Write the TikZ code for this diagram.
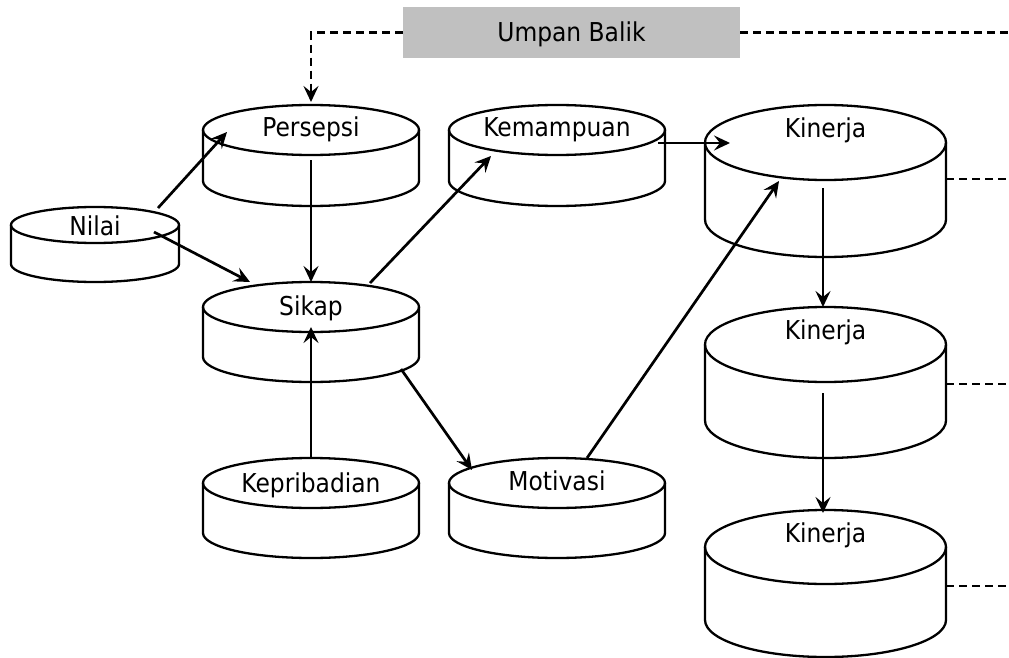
\documentclass[tikz,border=0pt]{standalone}
\usepackage{fontspec}
\setmainfont{DejaVu Sans Condensed}
\usetikzlibrary{arrows.meta,calc}
\definecolor{fbgray}{HTML}{C0C0C0}
\newcommand\cylnode[8]{%
  \node[cylbox, minimum width=#4, minimum height=#5] (#1) at (#2,{#3+#5/2}) {};
  \draw[cylline] ($(#1.north west)+(0,#6)$) -- ($(#1.south west)+(0,-#6)$)
     arc[start angle=180, end angle=0, x radius={#4/2}, y radius=#6]
     -- ($(#1.north east)+(0,#6)$);
  \draw[cylline] ($(#1.north)+(0,#6)$) ellipse[x radius={#4/2}, y radius=#6];
  \node[lbl] (#1-label) at (#2,#8) {#7};
}
\begin{document}
\begin{tikzpicture}[x=1pt,y=-1pt,
  cylbox/.style={draw=none, rectangle, inner sep=0pt, outer sep=0pt},
  cylline/.style={draw=black, line width=2.3pt},
  lbl/.style={inner sep=0pt, anchor=base, font=\fontsize{26}{30}\selectfont},
  tip/.style={-{Stealth[length=16pt,width=15pt,inset=6pt]}},
  arr/.style={draw=black, line width=2.7pt, tip},
  fb/.style={draw=black, line width=2.6pt, dash pattern=on 8pt off 5pt},
  fbr/.style={draw=black, line width=2pt, dash pattern=on 8pt off 5pt},
  fbbox/.style={fill=fbgray, draw=none, minimum width=337, minimum height=51,
     inner sep=0pt, text height=19pt, text depth=0pt, font=\fontsize{26}{30}\selectfont}]
\useasboundingbox (0,0) rectangle (1009,658);

% cylinders: name, cx, top, width, height, ry, text, baseline
\cylnode{nilai}{95}{207}{168}{75}{18}{Nilai}{235}
\cylnode{persepsi}{311}{105}{216}{101}{25}{Persepsi}{137}
\cylnode{kemampuan}{557}{105}{216}{101}{25}{Kemampuan}{137}
\cylnode{sikap}{311}{282}{216}{100}{25}{Sikap}{315}
\cylnode{kepribadian}{311}{458}{216}{100}{25}{Kepribadian}{492}
\cylnode{motivasi}{557}{458}{216}{100}{25}{Motivasi}{490}
\cylnode{kinerjaA}{825.5}{105}{241}{152}{37.5}{Kinerja}{138}
\cylnode{kinerjaB}{825.5}{307}{241}{151}{37.5}{Kinerja}{339}
\cylnode{kinerjaC}{825.5}{510}{241}{147}{37}{Kinerja}{542}

% feedback box
\node[fbbox] (umpan) at (571.5,32.5) {Umpan Balik};
\coordinate (fbend) at (1009,32.5);
\coordinate (endA) at (1009,179);
\coordinate (endB) at (1009,384);
\coordinate (endC) at (1009,586);

% connectors
\draw[arr] ($(nilai)+(63,-36.5)$) -- ($(persepsi)+(-84,-23.5)$);
\draw[arr] ($(nilai)+(59,-12.5)$) -- ($(sikap)+(-61,-50)$);
\draw[arr] ($(persepsi)+(0,4.5)$) -- (sikap.north);
\draw[arr] (kepribadian.north) -- ($(sikap)+(0,-5)$);
\draw[arr] ($(sikap)+(59,-49)$) -- ($(kemampuan)+(-66,0.5)$);
\draw[arr] ($(sikap)+(90,37)$) -- ($(motivasi)+(-85,-38)$);
\draw[arr] ($(kemampuan)+(101,-12.5)$) -- ($(kinerjaA)+(-95.5,-38)$);
\draw[arr] ($(motivasi)+(30,-50)$) -- ($(kinerjaA)+(-46.5,0)$);
\draw[arr] ($(kinerjaA)+(-2.5,7)$) -- ($(kinerjaB)+(-2.5,-75.5)$);
\draw[arr] ($(kinerjaB)+(-2.5,10.5)$) -- ($(kinerjaC)+(-2.5,-70.5)$);

% feedback dashed lines
\draw[fb, tip] (umpan.west) -| ($(persepsi.north)+(0,-3)$);
\draw[fb] (umpan.east) -- (fbend);
\draw[fbr] ($(kinerjaA.east)+(0,-2)$) -- (endA);
\draw[fbr] ($(kinerjaB.east)+(0,1.5)$) -- (endB);
\draw[fbr] ($(kinerjaC.east)+(0,2.5)$) -- (endC);
\end{tikzpicture}
\end{document}
